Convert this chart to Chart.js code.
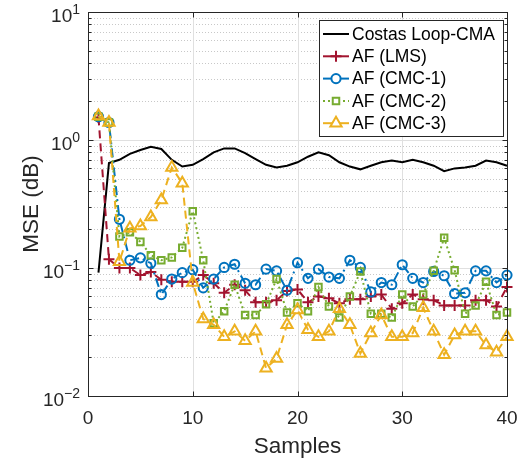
<!DOCTYPE html>
<html>
<head>
<meta charset="utf-8">
<script src="https://cdn.jsdelivr.net/npm/chart.js@4.4.0/dist/chart.umd.min.js"></script>
<style>
html, body { margin: 0; padding: 0; background: #fff; }
</style>
</head>
<body>
<canvas id="mse" width="521" height="461"></canvas>
<script>
const samples = [1, 2, 3, 4, 5, 6, 7, 8, 9, 10, 11, 12, 13, 14, 15, 16, 17, 18, 19, 20,
    21, 22, 23, 24, 25, 26, 27, 28, 29, 30, 31, 32, 33, 34, 35, 36, 37, 38, 39, 40];
const costas = [0.092, 0.66, 0.70, 0.78, 0.835, 0.886, 0.85, 0.70, 0.62, 0.64,
    0.71, 0.80, 0.86, 0.86, 0.79, 0.71, 0.64, 0.61, 0.63, 0.67,
    0.74, 0.80, 0.76, 0.67, 0.62, 0.59, 0.63, 0.67, 0.69, 0.67,
    0.70, 0.67, 0.63, 0.57, 0.60, 0.61, 0.63, 0.69, 0.67, 0.63];
const lms = [1.5, 0.117, 0.10, 0.10, 0.088, 0.093, 0.081, 0.078, 0.078, 0.078,
    0.088, 0.076, 0.064, 0.074, 0.067, 0.054, 0.054, 0.056, 0.066, 0.068,
    0.054, 0.060, 0.058, 0.053, 0.057, 0.057, 0.060, 0.062, 0.048, 0.053,
    0.062, 0.057, 0.056, 0.051, 0.051, 0.051, 0.056, 0.056, 0.050, 0.071];
const cmc1 = [1.52, 1.37, 0.24, 0.115, 0.12, 0.109, 0.062, 0.082, 0.092, 0.097,
    0.070, 0.082, 0.101, 0.107, 0.076, 0.074, 0.098, 0.095, 0.067, 0.110,
    0.083, 0.098, 0.085, 0.083, 0.115, 0.101, 0.065, 0.077, 0.074, 0.106,
    0.083, 0.077, 0.094, 0.087, 0.063, 0.064, 0.095, 0.095, 0.077, 0.088];
const cmc2 = [1.52, 1.37, 0.176, 0.19, 0.16, 0.126, 0.115, 0.121, 0.144, 0.278,
    0.115, 0.037, 0.046, 0.074, 0.043, 0.043, 0.052, 0.082, 0.045, 0.053,
    0.046, 0.071, 0.050, 0.041, 0.060, 0.094, 0.044, 0.044, 0.041, 0.062,
    0.050, 0.062, 0.095, 0.172, 0.096, 0.044, 0.051, 0.078, 0.043, 0.045];
const cmc3 = [1.54, 1.37, 0.112, 0.204, 0.213, 0.25, 0.34, 0.61, 0.46, 0.077,
    0.040, 0.036, 0.029, 0.032, 0.027, 0.032, 0.0165, 0.0196, 0.036, 0.047,
    0.033, 0.029, 0.032, 0.048, 0.036, 0.0215, 0.031, 0.043, 0.029, 0.029,
    0.031, 0.049, 0.032, 0.021, 0.030, 0.032, 0.032, 0.025, 0.022, 0.029];
const xTicks = [0, 10, 20, 30, 40];
const yDecades = [0.01, 0.1, 1, 10];
const yExp = ['\u22122', '\u22121', '0', '1'];

const axisCol = '#262626';
const pts = (vals) => samples.map((s, i) => ({ x: s, y: vals[i] }));

const series = [
    { label: 'Costas Loop-CMA', data: costas, color: '#000000', dash: [], marker: false, r: 0 },
    { label: 'AF (LMS)', data: lms, color: '#A2142F', dash: [8, 5], marker: 'cross', r: 5.5 },
    { label: 'AF (CMC-1)', data: cmc1, color: '#0072BD', dash: [9, 4, 2, 4], marker: 'circle', r: 4.6 },
    { label: 'AF (CMC-2)', data: cmc2, color: '#77AC30', dash: [2, 3], marker: 'rect', r: 4.6 },
    { label: 'AF (CMC-3)', data: cmc3, color: '#EDB120', dash: [8, 5], marker: 'triangle', r: 6.5 },
];

// grid, box, ticks, y labels and legend drawn by hand (MATLAB look)
const matlabAxes = {
    id: 'matlabAxes',
    beforeDatasetsDraw(chart) {
        const { ctx, chartArea: a, scales: { x, y } } = chart;
        ctx.save();
        ctx.lineWidth = 1;
        // minor dotted
        ctx.strokeStyle = '#c8c8c8';
        ctx.setLineDash([1, 2]);
        yDecades.slice(0, 3).forEach(d => {
            for (let m = 2; m <= 9; m++) {
                const py = Math.round(y.getPixelForValue(d * m)) + 0.5;
                ctx.beginPath(); ctx.moveTo(a.left, py); ctx.lineTo(a.right, py); ctx.stroke();
            }
        });
        ctx.setLineDash([]);
        ctx.strokeStyle = '#e0e0e0';
        yDecades.forEach(d => {
            const py = Math.round(y.getPixelForValue(d)) + 0.5;
            ctx.beginPath(); ctx.moveTo(a.left, py); ctx.lineTo(a.right, py); ctx.stroke();
        });
        xTicks.forEach(t => {
            const px = Math.round(x.getPixelForValue(t)) + 0.5;
            ctx.beginPath(); ctx.moveTo(px, a.top); ctx.lineTo(px, a.bottom); ctx.stroke();
        });
        ctx.restore();
    },
    afterDatasetsDraw(chart) {
        const { ctx, chartArea: a, scales: { x, y } } = chart;
        ctx.save();
        ctx.strokeStyle = axisCol;
        ctx.lineWidth = 1;
        const L = Math.round(a.left) + 0.5, R = Math.round(a.right) + 0.5;
        const T = Math.round(a.top) + 0.5, B = Math.round(a.bottom) + 0.5;
        ctx.strokeRect(L, T, R - L, B - T);
        ctx.beginPath();
        xTicks.forEach(t => {
            const px = Math.round(x.getPixelForValue(t)) + 0.5;
            ctx.moveTo(px, B); ctx.lineTo(px, B - 5);
            ctx.moveTo(px, T); ctx.lineTo(px, T + 5);
        });
        yDecades.forEach((d, k) => {
            const py = Math.round(y.getPixelForValue(d)) + 0.5;
            ctx.moveTo(L, py); ctx.lineTo(L + 5, py);
            ctx.moveTo(R, py); ctx.lineTo(R - 5, py);
            if (k < 3) {
                for (let m = 2; m <= 9; m++) {
                    const q = Math.round(y.getPixelForValue(d * m)) + 0.5;
                    ctx.moveTo(L, q); ctx.lineTo(L + 3, q);
                    ctx.moveTo(R, q); ctx.lineTo(R - 3, q);
                }
            }
        });
        ctx.stroke();

        // y tick labels 10^n
        ctx.fillStyle = axisCol;
        yDecades.forEach((d, k) => {
            const py = y.getPixelForValue(d);
            ctx.font = '14px "Liberation Sans", Arial, sans-serif';
            const sw = ctx.measureText(yExp[k]).width;
            ctx.textAlign = 'left';
            ctx.textBaseline = 'alphabetic';
            ctx.fillText(yExp[k], 80 - sw, py + 2);
            ctx.font = '19px "Liberation Sans", Arial, sans-serif';
            ctx.textAlign = 'right';
            ctx.fillText('10', 80 - sw, py + 10);
        });

        // legend
        const lx = 319.5, ly = 20.5, lw = 184, lh = 116;
        ctx.fillStyle = '#ffffff';
        ctx.fillRect(lx, ly, lw, lh);
        ctx.strokeStyle = axisCol;
        ctx.strokeRect(lx, ly, lw, lh);
        series.forEach((s, i) => {
            const ry = 34 + i * 22.3;
            ctx.strokeStyle = s.color;
            ctx.lineWidth = 2;
            ctx.setLineDash(s.marker === 'rect' ? s.dash : []);
            ctx.beginPath(); ctx.moveTo(323, ry); ctx.lineTo(349, ry); ctx.stroke();
            ctx.setLineDash([]);
            if (s.marker) {
                ctx.fillStyle = '#ffffff';
                Chart.helpers.drawPoint(ctx, { pointStyle: s.marker, radius: s.r, rotation: 0, borderWidth: 2 }, 336, ry);
            }
            ctx.fillStyle = '#000';
            ctx.font = '17.5px "Liberation Sans", Arial, sans-serif';
            ctx.textAlign = 'left';
            ctx.textBaseline = 'middle';
            ctx.fillText(s.label, 352, ry + 1);
        });
        ctx.restore();
    }
};

const ctx = document.getElementById('mse').getContext('2d');
const mseChart = new Chart(ctx, {
    type: 'line',
    data: {
        datasets: series.map((s, i) => ({
            label: s.label,
            data: pts(s.data),
            borderColor: s.color,
            borderWidth: 2,
            borderDash: s.dash,
            pointStyle: s.marker || 'circle',
            pointRadius: s.marker ? s.r : 0,
            pointBorderWidth: 2,
            pointBorderColor: s.color,
            pointBackgroundColor: 'rgba(0,0,0,0)',
            tension: 0,
            fill: false,
            clip: false,
            order: series.length - i,
        })),
    },
    options: {
        responsive: false,
        animation: false,
        devicePixelRatio: 1,
        layout: { padding: { top: 12, right: 14, left: 0, bottom: 0 } },
        plugins: {
            legend: { display: false },
            tooltip: { enabled: false },
        },
        scales: {
            x: {
                type: 'linear',
                min: 0,
                max: 40,
                grid: { display: false },
                border: { display: false },
                ticks: {
                    stepSize: 10,
                    color: axisCol,
                    padding: 3,
                    font: { family: '"Liberation Sans", Arial, sans-serif', size: 19 },
                },
                title: {
                    display: true,
                    text: 'Samples',
                    color: axisCol,
                    font: { family: '"Liberation Sans", Arial, sans-serif', size: 22.5 },
                    padding: { top: 0, bottom: 1 },
                },
                afterFit(scale) { scale.height = 65; },
            },
            y: {
                type: 'logarithmic',
                min: 0.01,
                max: 10,
                grid: { display: false },
                border: { display: false },
                ticks: { display: false },
                title: {
                    display: true,
                    text: 'MSE (dB)',
                    color: axisCol,
                    font: { family: '"Liberation Sans", Arial, sans-serif', size: 22.5 },
                    padding: { top: 18, bottom: 0 },
                },
                afterFit(scale) { scale.width = 88; },
            },
        },
    },
    plugins: [matlabAxes],
});
</script>
</body>
</html>
